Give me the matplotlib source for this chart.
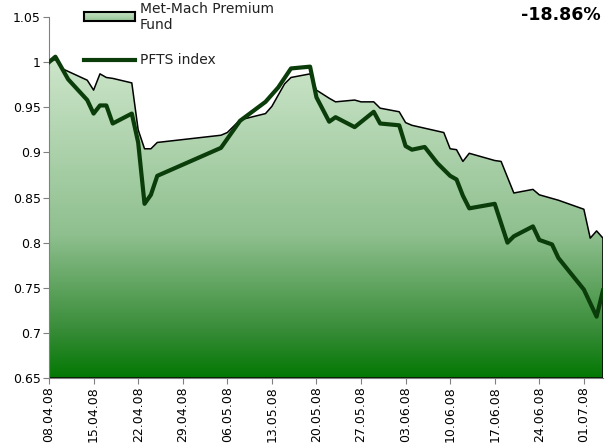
import numpy as np
import pandas as pd
import matplotlib
matplotlib.use('Agg')
import matplotlib.pyplot as plt
import matplotlib.dates as mdates
from matplotlib.colors import LinearSegmentedColormap
from matplotlib.lines import Line2D

start = pd.Timestamp('2008-04-08')

# day offsets from 08.04.08 and values
fund_days = [0, 1, 2, 6, 7, 8, 9, 10, 13, 14, 15, 16, 17, 27, 28, 30, 34, 35, 37, 38,
             41, 42, 44, 45, 48, 49, 51, 52, 55, 56, 57, 62, 63, 64, 65, 66, 70, 71, 73,
             76, 77, 78, 80, 84, 85, 86, 87]
fund_vals = [1.000, 1.003, 0.993, 0.980, 0.969, 0.987, 0.983, 0.982, 0.977, 0.925, 0.904,
             0.904, 0.911, 0.919, 0.922, 0.936, 0.943, 0.951, 0.976, 0.983, 0.987, 0.969,
             0.960, 0.956, 0.958, 0.956, 0.956, 0.949, 0.945, 0.933, 0.930, 0.922, 0.904,
             0.903, 0.890, 0.899, 0.891, 0.890, 0.855, 0.859, 0.853, 0.851, 0.847, 0.837,
             0.805, 0.813, 0.805]

pfts_days = [0, 1, 3, 6, 7, 8, 9, 10, 13, 14, 15, 16, 17, 27, 30, 34, 36, 38, 41, 42,
             44, 45, 48, 51, 52, 55, 56, 57, 59, 61, 63, 64, 65, 66, 70, 72, 73, 76, 77,
             79, 80, 84, 86, 87]
pfts_vals = [1.000, 1.006, 0.981, 0.958, 0.943, 0.952, 0.952, 0.932, 0.943, 0.911, 0.843,
             0.853, 0.874, 0.905, 0.935, 0.956, 0.972, 0.993, 0.995, 0.961, 0.934, 0.939,
             0.928, 0.945, 0.932, 0.930, 0.907, 0.903, 0.906, 0.888, 0.874, 0.870, 0.852,
             0.838, 0.843, 0.800, 0.807, 0.818, 0.803, 0.798, 0.783, 0.748, 0.718, 0.747]

change_text = '-18.86%'

fund_x = mdates.date2num(start + pd.to_timedelta(fund_days, unit='D'))
pfts_x = mdates.date2num(start + pd.to_timedelta(pfts_days, unit='D'))
ticks = start + pd.to_timedelta(np.arange(0, 85, 7), unit='D')

ymin, ymax = 0.65, 1.05
green_cmap = LinearSegmentedColormap.from_list('g', [
    (0.0, (0.01, 0.47, 0.01)),
    (0.15, (0.22, 0.55, 0.22)),
    (0.45, (0.56, 0.75, 0.56)),
    (1.0, (0.80, 0.90, 0.79)),
])

fig = plt.figure(figsize=(6.06, 4.43), dpi=100)
ax = fig.add_axes([0.0809, 0.1467, 0.9141, 0.8149])

# gradient area for the fund
fill = ax.fill_between(fund_x, fund_vals, ymin, facecolor='none', edgecolor='none')
grad = np.linspace(0, 1, 256).reshape(-1, 1)
img = ax.imshow(grad, cmap=green_cmap, aspect='auto', origin='lower',
                extent=[fund_x[0], fund_x[-1], ymin, max(fund_vals)], zorder=1)
img.set_clip_path(fill.get_paths()[0], transform=ax.transData)
outline_x = np.concatenate([[fund_x[0]], fund_x, [fund_x[-1], fund_x[0]]])
outline_y = np.concatenate([[ymin], fund_vals, [ymin, ymin]])
ax.plot(outline_x, outline_y, color='black', lw=1.1, zorder=2)

ax.plot(pfts_x, pfts_vals, color='#0b3d0b', lw=3.0, zorder=3)

ax.set_xlim(fund_x[0], fund_x[-1])
ax.set_ylim(ymin, ymax)
ax.set_yticks(np.arange(0.65, 1.0501, 0.05))
ax.set_yticklabels(['0.65', '0.7', '0.75', '0.8', '0.85', '0.9', '0.95', '1', '1.05'])
ax.set_xticks(mdates.date2num(ticks))
ax.set_xticklabels([t.strftime('%d.%m.%y') for t in ticks], rotation=90)
ax.tick_params(axis='both', labelsize=9, color='#808080', length=4, pad=2)
for s in ['top', 'right']:
    ax.spines[s].set_visible(False)
for s in ['left', 'bottom']:
    ax.spines[s].set_color('#808080')

# legend drawn in figure coordinates
lx0, lx1 = 84 / 606, 135 / 606
grad_ax = fig.add_axes([lx0, 1 - 21 / 443, lx1 - lx0, 9 / 443])
grad_ax.imshow(np.linspace(0.5, 1, 32).reshape(-1, 1), cmap=green_cmap, aspect='auto',
               origin='lower', vmin=0, vmax=1)
grad_ax.set_xticks([])
grad_ax.set_yticks([])
for s in grad_ax.spines.values():
    s.set_linewidth(1.5)
fig.lines.append(Line2D([lx0, lx1], [1 - 60 / 443] * 2, transform=fig.transFigure,
                        color='#0b3d0b', lw=3.0))
fig.text(140 / 606, 1 - 17 / 443, 'Met-Mach Premium\nFund', fontsize=10, va='center',
         ha='left', linespacing=1.15, color='#222222')
fig.text(140 / 606, 1 - 60 / 443, 'PFTS index', fontsize=10, va='center', ha='left',
         color='#222222')

fig.text(601 / 606, 1 - 15 / 443, change_text, fontsize=12.5, fontweight='bold',
         ha='right', va='center')

fig.savefig('out.png', dpi=100)
